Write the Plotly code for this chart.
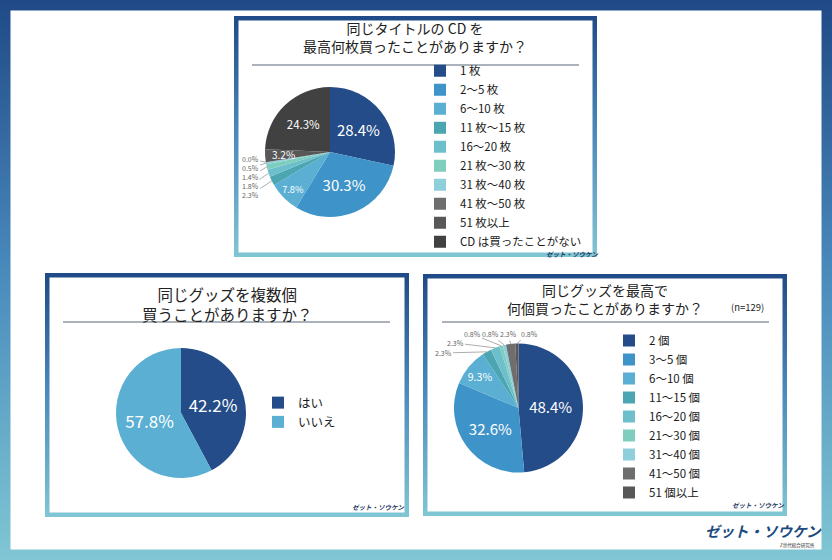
import numpy as np
import plotly.graph_objects as go

# DATA
cd_labels = ['1 枚', '2～5 枚', '6～10 枚', '11 枚～15 枚', '16～20 枚', '21 枚～30 枚',
             '31 枚～40 枚', '41 枚～50 枚', '51 枚以上', 'CD は買ったことがない']
cd_values = [28.4, 30.3, 7.8, 2.3, 1.8, 1.4, 0.5, 0.0, 3.2, 24.3]

multi_labels = ['はい', 'いいえ']
multi_values = [42.2, 57.8]

goods_labels = ['2 個', '3～5 個', '6～10 個', '11～15 個', '16～20 個', '21～30 個',
                '31～40 個', '41～50 個', '51 個以上']
goods_values = [48.4, 32.6, 9.3, 2.3, 2.3, 0.8, 0.8, 2.3, 0.8]
goods_n = 129

# STYLE
W, H = 832, 560
FONT = 'Noto Sans CJK JP'
GRAD = [[0, '#1f4a87'], [0.5, '#4b8cbd'], [1, '#80c6d3']]
cd_colors = ['#234c88', '#3e93c8', '#5aafd2', '#4ba6b2', '#6ebfcc', '#7ecdbd',
             '#8fcfdc', '#6e6e6e', '#585858', '#414141']
multi_colors = ['#234c88', '#5aafd2']
goods_colors = cd_colors[:9]


def rect(x0, y0, x1, y1):
    return [x0, x1, x1, x0, x0], [y0, y0, y1, y1, y0]


def frame(fig, x0, y0, x1, y1, bw):
    xs, ys = rect(x0, y0, x1, y1)
    fig.add_trace(go.Scatter(x=xs, y=ys, mode='none', fill='toself',
                             fillgradient=dict(type='vertical', colorscale=GRAD, start=y0, stop=y1),
                             hoverinfo='skip', showlegend=False))
    xs, ys = rect(x0 + bw, y0 + bw, x1 - bw, y1 - bw)
    fig.add_trace(go.Scatter(x=xs, y=ys, mode='none', fill='toself', fillcolor='white',
                             hoverinfo='skip', showlegend=False))


def dom(cx, cy, r):
    return dict(x=[(cx - r) / W, (cx + r) / W], y=[(H - cy - r) / H, (H - cy + r) / H])


def slice_point(values, i, cx, cy, r, k=1.0):
    # point on the bisector of slice i, at k * radius
    cum = sum(values[:i]) + values[i] / 2
    ang = 2 * np.pi * cum / sum(values)
    return cx + k * r * np.sin(ang), cy - k * r * np.cos(ang)


def pct(vals):
    return ['%.1f%%' % v for v in vals]


fig = go.Figure()

# FRAMES
frame(fig, 0, 0, W, H, 10.5)
frame(fig, 234, 16, 597, 257, 4.5)
frame(fig, 45, 273, 409, 517, 4.5)
frame(fig, 423, 274, 787, 516, 4.5)

# PIES
top_c = (330, 152, 65)
left_c = (181, 413, 65)
right_c = (518.5, 408, 64.5)

cd_pos = ['inside', 'inside', 'inside', 'none', 'none', 'none', 'none', 'none', 'none', 'inside']
cd_size = [15, 15, 10, 7, 7, 7, 7, 7, 10, 11.5]
fig.add_trace(go.Pie(labels=cd_labels, values=cd_values, text=pct(cd_values), textinfo='text',
                     textposition=cd_pos, textfont=dict(size=cd_size, color='white', family=FONT),
                     insidetextorientation='horizontal',
                     marker=dict(colors=cd_colors, line=dict(width=0)), sort=False,
                     direction='clockwise', domain=dom(*top_c), legend='legend'))

fig.add_trace(go.Pie(labels=multi_labels, values=multi_values, text=pct(multi_values), textinfo='text',
                     textposition='inside', textfont=dict(size=17, color='white', family=FONT),
                     insidetextorientation='horizontal',
                     marker=dict(colors=multi_colors, line=dict(width=0)), sort=False,
                     direction='clockwise', domain=dom(*left_c), legend='legend2'))

goods_pos = ['inside', 'inside', 'inside', 'none', 'none', 'none', 'none', 'none', 'none']
goods_size = [15, 15, 11, 7, 7, 7, 7, 7, 7]
fig.add_trace(go.Pie(labels=goods_labels, values=goods_values, text=pct(goods_values), textinfo='text',
                     textposition=goods_pos, textfont=dict(size=goods_size, color='white', family=FONT),
                     insidetextorientation='horizontal',
                     marker=dict(colors=goods_colors, line=dict(width=0)), sort=False,
                     direction='clockwise', domain=dom(*right_c), legend='legend3'))

annotations = []

# thin "51 枚以上" slice label, on its bisector
lx, ly = slice_point(cd_values, 8, *top_c, k=0.72)
annotations.append(dict(x=lx, y=ly, text='%.1f%%' % cd_values[8], showarrow=False,
                        font=dict(size=10, color='white', family=FONT)))

# SMALL OUTSIDE LABELS
cd_small = [7, 6, 5, 4, 3]
for k, i in enumerate(cd_small):
    ex, ey = slice_point(cd_values, i, *top_c)
    annotations.append(dict(x=ex, y=ey, ax=250, ay=159 + 9 * k, axref='x', ayref='y',
                            text='%.1f%%' % cd_values[i], showarrow=True, arrowhead=0,
                            arrowwidth=0.7, arrowcolor='#8a8a8a',
                            font=dict(size=7, color='#666666', family=FONT)))

goods_small = [3, 4, 5, 6, 7, 8]
goods_lab_xy = [(443, 353), (455, 343), (472, 334), (490, 334), (508, 334), (529, 334)]
for i, (lx, ly) in zip(goods_small, goods_lab_xy):
    ex, ey = slice_point(goods_values, i, *right_c)
    annotations.append(dict(x=ex, y=ey, ax=lx, ay=ly, axref='x', ayref='y',
                            text='%.1f%%' % goods_values[i], showarrow=True, arrowhead=0,
                            arrowwidth=0.7, arrowcolor='#8a8a8a',
                            font=dict(size=7, color='#666666', family=FONT)))

# TITLES
titles = [
    ('同じタイトルの CD を<br>最高何枚買ったことがありますか？', 415, 37, 14),
    ('同じグッズを複数個<br>買うことがありますか？', 227, 303.5, 15.5),
    ('同じグッズを最高で<br>何個買ったことがありますか？', 605, 298.5, 14),
]
for t, x, y, s in titles:
    annotations.append(dict(x=x, y=y, text=t, showarrow=False,
                            font=dict(size=s, color='#222222', family=FONT)))
annotations.append(dict(x=747, y=307, text='(n=%d)' % goods_n, showarrow=False,
                        font=dict(size=9.5, color='#222222', family=FONT)))

# LOGOS
for x, y in [(572, 253.5), (378, 507), (758, 505)]:
    annotations.append(dict(x=x, y=y, text='<b><i>ゼット・ソウケン</i></b>', showarrow=False,
                            font=dict(size=6.5, color='#1f3a63', family=FONT)))
annotations.append(dict(x=763, y=530, text='<b><i>ゼット・ソウケン</i></b>', showarrow=False,
                        font=dict(size=14.5, color='#1d4a80', family=FONT)))
annotations.append(dict(x=797, y=545, text='Z世代総合研究所', showarrow=False,
                        font=dict(size=4.5, color='#333333', family=FONT)))

for a in annotations:
    a.setdefault('xref', 'x')
    a.setdefault('yref', 'y')

# RULES UNDER TITLES
shapes = [
    dict(type='line', x0=252, x1=579, y0=65, y1=65),
    dict(type='line', x0=63, x1=390, y0=322, y1=322),
    dict(type='line', x0=442, x1=769, y0=322, y1=322),
]
for s in shapes:
    s.update(xref='x', yref='y', line=dict(color='#8e9aa6', width=1.5))

legend_font = dict(size=11.5, color='#1a1a1a', family=FONT)
fig.update_layout(
    width=W, height=H,
    margin=dict(l=0, r=0, t=0, b=0),
    paper_bgcolor='white', plot_bgcolor='rgba(0,0,0,0)',
    xaxis=dict(range=[0, W], visible=False, fixedrange=True),
    yaxis=dict(range=[H, 0], visible=False, fixedrange=True),
    annotations=annotations, shapes=shapes,
    legend=dict(x=420 / W, y=1 - 56.3 / H, xanchor='left', yanchor='top', font=legend_font,
                bgcolor='rgba(0,0,0,0)'),
    legend2=dict(x=258 / W, y=1 - 388 / H, xanchor='left', yanchor='top',
                 font=dict(size=12.5, color='#1a1a1a', family=FONT), bgcolor='rgba(0,0,0,0)'),
    legend3=dict(x=609 / W, y=1 - 326 / H, xanchor='left', yanchor='top', font=legend_font,
                 bgcolor='rgba(0,0,0,0)'),
    showlegend=True,
)

fig.write_html("out.html", config={'displayModeBar': False},
               post_script="document.body.style.margin='0';")
